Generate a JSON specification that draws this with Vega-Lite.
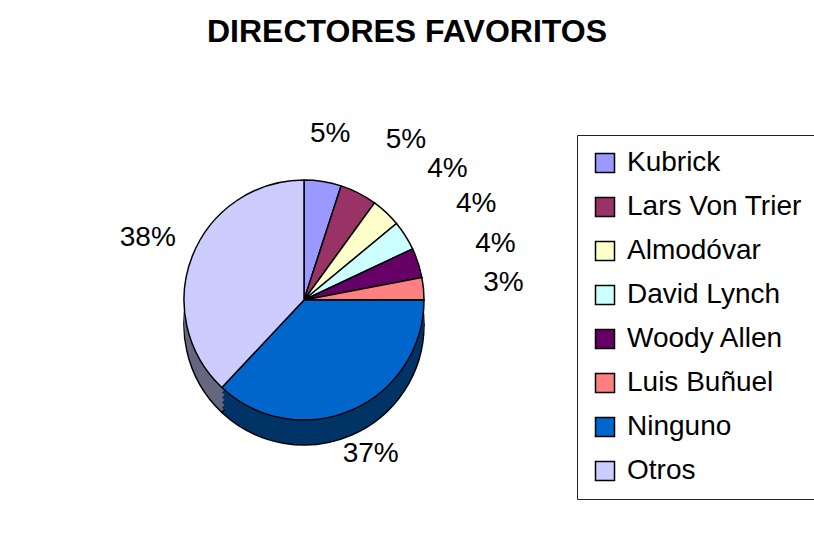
{
  "$schema": "https://vega.github.io/schema/vega-lite/v6.json",
  "autosize": "none",
  "width": 300,
  "height": 300,
  "padding": {"left": 154, "top": 150, "right": 360, "bottom": 106},
  "background": "white",
  "config": {"view": {"stroke": null}},
  "title": {
    "text": "DIRECTORES FAVORITOS",
    "font": "Liberation Sans",
    "fontSize": 32,
    "fontWeight": "bold",
    "color": "black",
    "anchor": "middle",
    "frame": "group",
    "dx": 103,
    "offset": 34,
    "baseline": "alphabetic"
  },
  "data": {
    "values": [
      {"director": "Kubrick", "pct": 0.05, "idx": 1},
      {"director": "Lars Von Trier", "pct": 0.05, "idx": 2},
      {"director": "Almodóvar", "pct": 0.04, "idx": 3},
      {"director": "David Lynch", "pct": 0.04, "idx": 4},
      {"director": "Woody Allen", "pct": 0.04, "idx": 5},
      {"director": "Luis Buñuel", "pct": 0.03, "idx": 6},
      {"director": "Ninguno", "pct": 0.37, "idx": 7},
      {"director": "Otros", "pct": 0.38, "idx": 8}
    ]
  },
  "encoding": {
    "theta": {"field": "pct", "type": "quantitative", "stack": true},
    "order": {"field": "idx", "type": "quantitative"}
  },
  "layer": [
    {
      "mark": {"type": "arc", "outerRadius": 120, "yOffset": 25, "stroke": "black", "strokeWidth": 1.5},
      "encoding": {
        "color": {"field": "director", "type": "nominal", "legend": null,
          "scale": {"domain": ["Kubrick", "Lars Von Trier", "Almodóvar", "David Lynch", "Woody Allen", "Luis Buñuel", "Ninguno", "Otros"],
                    "range": ["#4D4D80", "#4D1A33", "#808066", "#668080", "#330033", "#804040", "#003366", "#666680"]}}
      }
    },
    {
      "mark": {"type": "arc", "outerRadius": 120, "yOffset": 20, "strokeWidth": 0},
      "encoding": {
        "color": {"field": "director", "type": "nominal", "legend": null,
          "scale": {"domain": ["Kubrick", "Lars Von Trier", "Almodóvar", "David Lynch", "Woody Allen", "Luis Buñuel", "Ninguno", "Otros"],
                    "range": ["#4D4D80", "#4D1A33", "#808066", "#668080", "#330033", "#804040", "#003366", "#666680"]}}
      }
    },
    {
      "mark": {"type": "arc", "outerRadius": 120, "yOffset": 15, "strokeWidth": 0},
      "encoding": {
        "color": {"field": "director", "type": "nominal", "legend": null,
          "scale": {"domain": ["Kubrick", "Lars Von Trier", "Almodóvar", "David Lynch", "Woody Allen", "Luis Buñuel", "Ninguno", "Otros"],
                    "range": ["#4D4D80", "#4D1A33", "#808066", "#668080", "#330033", "#804040", "#003366", "#666680"]}}
      }
    },
    {
      "mark": {"type": "arc", "outerRadius": 120, "yOffset": 10, "strokeWidth": 0},
      "encoding": {
        "color": {"field": "director", "type": "nominal", "legend": null,
          "scale": {"domain": ["Kubrick", "Lars Von Trier", "Almodóvar", "David Lynch", "Woody Allen", "Luis Buñuel", "Ninguno", "Otros"],
                    "range": ["#4D4D80", "#4D1A33", "#808066", "#668080", "#330033", "#804040", "#003366", "#666680"]}}
      }
    },
    {
      "mark": {"type": "arc", "outerRadius": 120, "yOffset": 5, "strokeWidth": 0},
      "encoding": {
        "color": {"field": "director", "type": "nominal", "legend": null,
          "scale": {"domain": ["Kubrick", "Lars Von Trier", "Almodóvar", "David Lynch", "Woody Allen", "Luis Buñuel", "Ninguno", "Otros"],
                    "range": ["#4D4D80", "#4D1A33", "#808066", "#668080", "#330033", "#804040", "#003366", "#666680"]}}
      }
    },
    {
      "mark": {"type": "arc", "outerRadius": 120, "stroke": "black", "strokeWidth": 1.5},
      "encoding": {
        "color": {"field": "director", "type": "nominal",
          "scale": {"domain": ["Kubrick", "Lars Von Trier", "Almodóvar", "David Lynch", "Woody Allen", "Luis Buñuel", "Ninguno", "Otros"],
                    "range": ["#9999FF", "#993366", "#FFFFCC", "#CCFFFF", "#660066", "#FF8080", "#0066CC", "#CCCCFF"]},
          "legend": {
            "title": null,
            "orient": "none",
            "legendX": 423,
            "legendY": -15,
            "direction": "vertical",
            "padding": 14,
            "strokeColor": "#222222",
            "fillColor": "white",
            "symbolType": "square",
            "symbolSize": 361,
            "symbolStrokeColor": "black",
            "symbolStrokeWidth": 1.5,
            "symbolOpacity": 1,
            "labelFont": "Liberation Sans",
            "labelFontSize": 28,
            "labelColor": "black",
            "labelOffset": 8,
            "labelLimit": 400,
            "rowPadding": 16
          }
        }
      }
    },
    {
      "mark": {"type": "text", "font": "Liberation Sans", "fontSize": 28, "color": "black", "align": "center", "baseline": "middle"},
      "encoding": {
        "radius": {"value": 168},
        "text": {"condition": {"test": "datum.idx == 1 || datum.idx >= 7", "field": "pct", "type": "quantitative", "format": ".0%"}, "value": ""}
      }
    },
    {
      "mark": {"type": "text", "font": "Liberation Sans", "fontSize": 28, "color": "black", "align": "left", "baseline": "middle"},
      "encoding": {
        "radius": {"value": 180},
        "text": {"condition": {"test": "datum.idx >= 2 && datum.idx <= 6", "field": "pct", "type": "quantitative", "format": ".0%"}, "value": ""}
      }
    }
  ],
  "resolve": {"scale": {"color": "independent"}}
}
